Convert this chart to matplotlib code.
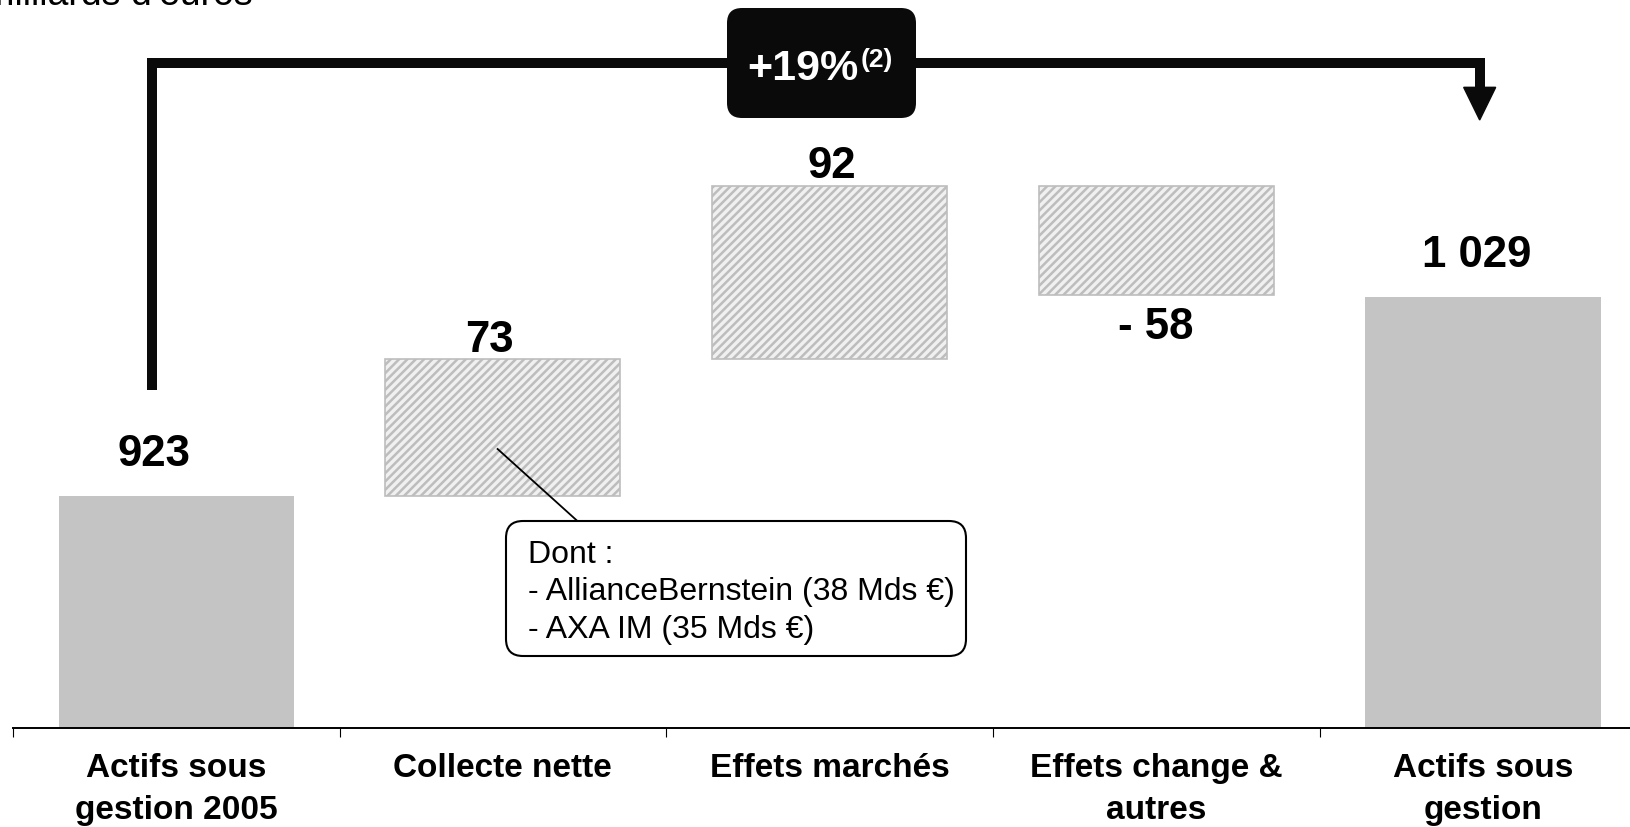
import numpy as np
import matplotlib
matplotlib.use('Agg')
import matplotlib.pyplot as plt
from matplotlib.patches import FancyBboxPatch, Polygon
from matplotlib.transforms import IdentityTransform

plt.rcParams['font.family'] = ['Liberation Sans', 'DejaVu Sans']
plt.rcParams['hatch.linewidth'] = 1.8

### data (en milliards d'euros)
categories = ["Actifs sous\ngestion 2005", "Collecte nette", "Effets marchés",
              "Effets change &\nautres", "Actifs sous\ngestion"]
start_total = 923
flows = [73, 92, -58]
end_total = 1029
growth_label = "+19%"
growth_note = "(2)"
note_lines = ["Dont :", "- AllianceBernstein (38 Mds €)", "- AXA IM (35 Mds €)"]
unit_label = "En milliards d'euros"

W, H, DPI = 1630, 827, 100
y_base = 799.5   # axe tronqué
y_top = 1187

def fmt(v):
    s = "{:,}".format(abs(v)).replace(",", " ")
    return "- " + s if v < 0 else s

fig = plt.figure(figsize=(W / DPI, H / DPI), dpi=DPI)
fig.patch.set_facecolor('white')
ax = fig.add_axes([12.8 / W, 99.3 / H, 5 * 326.7 / W, 727.7 / H])
ax.set_xlim(-0.5, 4.5)
ax.set_ylim(y_base, y_top)

x = np.arange(len(categories))
bw = 0.72

# totals
ax.bar([x[0], x[-1]], [start_total - y_base, end_total - y_base], bottom=y_base,
       width=bw, color='#c4c4c4', edgecolor='none', zorder=2)

# floating bars
cum = start_total
bottoms, heights = [], []
for v in flows:
    bottoms.append(min(cum, cum + v))
    heights.append(abs(v))
    cum += v
ax.bar(x[1:4], heights, bottom=bottoms, width=bw, facecolor='#f0f0f0',
       edgecolor='#bdbdbd', linewidth=1.2, hatch='////', zorder=2)

# value labels (offset in pixels)
lbl = dict(textcoords='offset pixels', ha='center', va='center',
           fontsize=31.5, fontweight='bold')
ax.annotate(fmt(start_total), (x[0], start_total), xytext=(-22, 41), **lbl)
label_off = [(-13, 18), (2, 19), (-1, -33)]
cum = start_total
for i, v in enumerate(flows):
    ax.annotate(fmt(v), (x[i + 1], cum + v), xytext=label_off[i], **lbl)
    cum += v
ax.annotate(fmt(end_total), (x[-1], end_total), xytext=(-6, 41), **lbl)

# bracket + arrow
bx0, bx1 = x[0] - 0.075, x[-1] - 0.01
ax.plot([bx0, bx0, bx1, bx1], [979.3, 1153.3, 1153.3, 1140.5], color='#0a0a0a',
        lw=7.2, solid_joinstyle='miter', solid_capstyle='butt', clip_on=False,
        zorder=3)
ax.add_patch(Polygon([(bx1 - 0.049, 1140.5), (bx1 + 0.049, 1140.5), (bx1, 1123.1)],
                     closed=True, color='#0a0a0a', clip_on=False, zorder=3))

box = FancyBboxPatch((727, H - 118), 189, 110,
                     boxstyle='round,pad=0,rounding_size=15',
                     transform=IdentityTransform(), fc='#0a0a0a', ec='none', zorder=5)
fig.add_artist(box)
fig.text(747 / W, (H - 80) / H, growth_label, color='white', fontsize=31,
         fontweight='bold', ha='left', va='baseline', zorder=6)
fig.text(861 / W, (H - 66.5) / H, growth_note, color='white', fontsize=19,
         fontweight='bold', ha='left', va='baseline', zorder=6)

# note box
ax.plot([x[1] - 0.016, x[1] + 0.228], [947.9, 909.6], color='black', lw=1.3,
        zorder=3)
nbox = FancyBboxPatch((506, H - 656), 460, 135,
                      boxstyle='round,pad=0,rounding_size=17',
                      transform=IdentityTransform(), fc='white', ec='black',
                      lw=1.5, zorder=5)
fig.add_artist(nbox)
# va='baseline' cale la derniere ligne
fig.text(528 / W, (H - 638) / H, "\n".join(note_lines), fontsize=23,
         ha='left', va='baseline', linespacing=1.33, zorder=6)

fig.text(253 / W, (H - 4.7) / H, unit_label, fontsize=27, ha='right', va='baseline')

# axes
for s in ['left', 'right', 'top']:
    ax.spines[s].set_visible(False)
ax.spines['bottom'].set_linewidth(1.4)
ax.set_yticks([])
ax.set_xticks(x)
ax.set_xticklabels(categories, fontsize=24, fontweight='bold', linespacing=1.47)
ax.set_xticks(x[:] - 0.5, minor=True)
ax.tick_params(axis='x', which='major', length=0, pad=18)
ax.tick_params(axis='x', which='minor', length=6.8, width=0.8)

fig.savefig('out.png', dpi=DPI, facecolor='white')
